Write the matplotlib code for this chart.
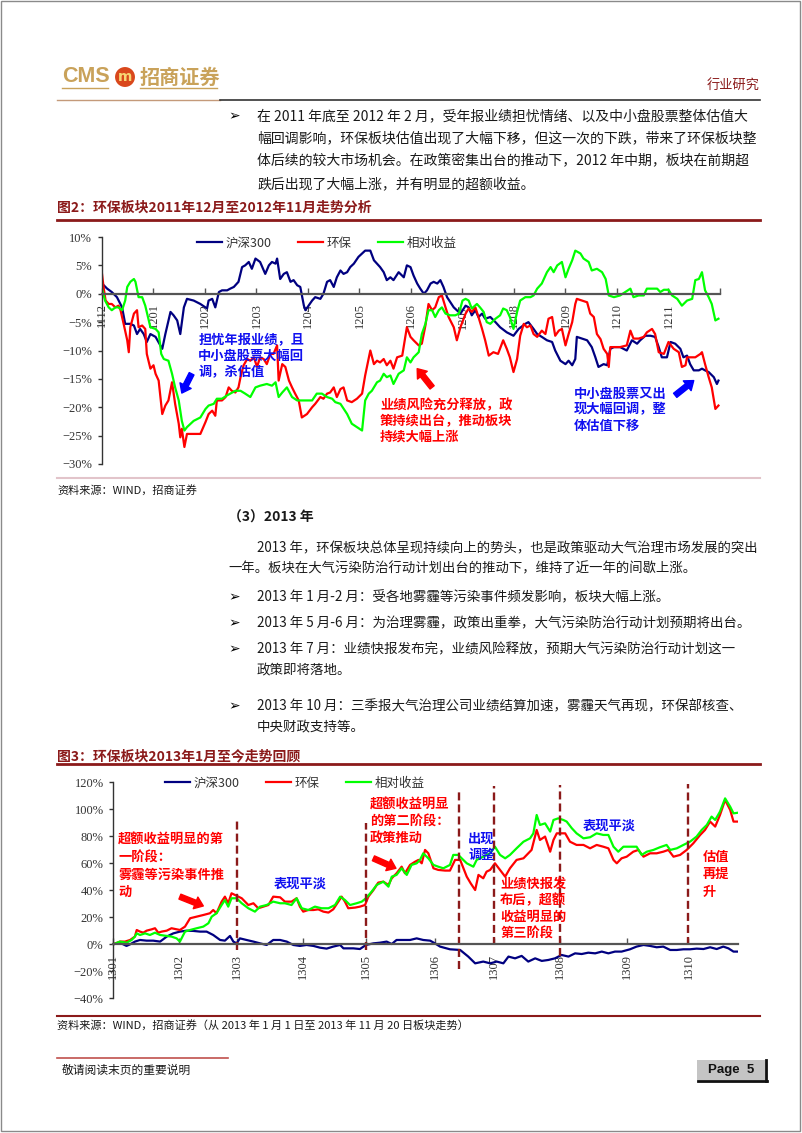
import matplotlib.pyplot as plt
from matplotlib.lines import Line2D
from matplotlib.patches import Rectangle

plt.rcParams['font.family'] = ['Noto Sans CJK SC', 'DejaVu Sans']

# ---------------- data: figure 2 (2011-12 .. 2012-11), x = months since 2011-12 ----------------
ticks_2012 = ['1112', '1201', '1202', '1203', '1204', '1205', '1206',
              '1207', '1208', '1209', '1210', '1211']

hs300_2012 = [
    (0.00, 1.8), (0.10, 0.9), (0.19, 0.3), (0.29, -0.6), (0.39, -2.4), (0.45, -5.3), (0.55, -5.3),
    (0.62, -5.6), (0.68, -7.1), (0.74, -6.2), (0.81, -7.1), (0.87, -8.5), (0.94, -7.1), (1.04, -7.6),
    (1.17, -9.7), (1.23, -7.1), (1.33, -3.2), (1.39, -3.8), (1.46, -4.7), (1.52, -7.1), (1.59, -2.4),
    (1.65, -0.9), (1.78, -1.2), (1.91, -1.8), (2.04, -2.6), (2.07, -1.2), (2.14, -0.9), (2.20, -2.4),
    (2.27, 0.3), (2.33, 0.6), (2.43, 0.6), (2.49, 0.9), (2.56, 1.2), (2.65, 2.1), (2.72, 4.7),
    (2.78, 5.0), (2.85, 5.6), (2.91, 4.4), (2.98, 6.2), (3.07, 5.6), (3.17, 3.5), (3.24, 5.0),
    (3.30, 5.6), (3.37, 5.3), (3.40, 6.2), (3.46, 2.6), (3.53, 3.5), (3.59, 3.8), (3.66, 2.1),
    (3.72, 2.4), (3.79, 1.5), (3.85, 1.2), (3.92, -2.1), (3.95, -2.9), (4.01, -2.1), (4.08, -1.2),
    (4.14, -0.6), (4.24, -0.9), (4.30, 0.0), (4.37, 2.1), (4.43, 2.4), (4.50, 1.2), (4.56, 2.9),
    (4.63, 4.1), (4.69, 3.5), (4.76, 3.8), (4.82, 4.7), (4.89, 5.3), (4.98, 6.5), (5.05, 7.1),
    (5.11, 7.6), (5.21, 7.6), (5.28, 5.9), (5.34, 5.3), (5.40, 4.7), (5.47, 3.8), (5.53, 2.4),
    (5.60, 2.9), (5.66, 2.4), (5.76, 3.8), (5.86, 2.9), (5.92, 5.0), (5.99, 4.7), (6.05, 3.2),
    (6.12, 1.8), (6.18, 0.9), (6.25, 0.0), (6.31, 0.6), (6.38, 1.8), (6.44, 2.1), (6.51, 1.8),
    (6.57, 2.4), (6.63, 1.2), (6.70, -0.6), (6.83, -2.4), (6.96, -3.5), (7.06, -2.1), (7.12, -2.4),
    (7.18, -3.8), (7.25, -2.9), (7.31, -4.1), (7.38, -3.5), (7.44, -4.4), (7.54, -4.1), (7.64, -5.0),
    (7.73, -5.9), (7.86, -6.8), (7.99, -7.4), (8.09, -6.2), (8.22, -5.3), (8.28, -5.0), (8.38, -6.2),
    (8.45, -7.1), (8.54, -7.6), (8.64, -8.2), (8.74, -8.5), (8.80, -10.0), (8.90, -11.8),
    (9.00, -12.4), (9.06, -11.8), (9.13, -12.6), (9.19, -11.5), (9.22, -7.6), (9.32, -7.9),
    (9.42, -8.2), (9.51, -9.4), (9.58, -11.2), (9.64, -12.9), (9.74, -12.4), (9.81, -12.6),
    (9.87, -9.7), (9.94, -9.4), (10.06, -9.4), (10.19, -10.0), (10.29, -8.2), (10.39, -8.8),
    (10.45, -8.2), (10.55, -7.4), (10.65, -7.4), (10.74, -7.6), (10.81, -9.4), (10.87, -11.2),
    (10.97, -11.2), (11.04, -8.5), (11.13, -8.8), (11.23, -9.7), (11.29, -11.2), (11.36, -10.9),
    (11.42, -12.4), (11.49, -13.5), (11.59, -13.5), (11.65, -13.2), (11.71, -13.5), (11.78, -13.8),
    (11.88, -14.7), (11.94, -15.9), (11.97, -15.3),
]

env_2012 = [
    (0.00, 3.5), (0.03, 1.2), (0.07, -1.2), (0.13, -1.8), (0.19, -1.8), (0.26, -2.4), (0.32, -2.1),
    (0.36, -2.9), (0.42, -5.3), (0.49, -8.2), (0.52, -10.3), (0.55, -5.9), (0.62, -3.5), (0.68, -2.9),
    (0.71, -5.9), (0.78, -5.6), (0.84, -6.2), (0.87, -10.6), (0.94, -13.2), (1.00, -12.6),
    (1.04, -14.1), (1.10, -15.3), (1.17, -21.2), (1.23, -19.7), (1.29, -18.8), (1.36, -15.6),
    (1.42, -19.4), (1.49, -22.9), (1.52, -25.3), (1.55, -23.8), (1.60, -27.0), (1.65, -24.7),
    (1.78, -24.7), (1.91, -24.7), (2.01, -22.6), (2.07, -21.2), (2.14, -20.6), (2.20, -21.5),
    (2.23, -18.8), (2.33, -18.8), (2.40, -18.2), (2.46, -16.5), (2.52, -17.1), (2.59, -17.4),
    (2.65, -16.5), (2.69, -14.7), (2.75, -12.6), (2.82, -11.5), (2.88, -11.8), (2.95, -11.2),
    (3.01, -12.9), (3.07, -11.2), (3.14, -11.5), (3.20, -12.4), (3.27, -10.6), (3.33, -10.6),
    (3.40, -9.1), (3.43, -15.3), (3.50, -12.4), (3.56, -12.9), (3.63, -15.3), (3.69, -16.5),
    (3.75, -17.6), (3.82, -18.8), (3.88, -21.8), (3.98, -21.2), (4.08, -20.0), (4.14, -19.4),
    (4.24, -18.2), (4.30, -18.5), (4.37, -17.6), (4.43, -17.4), (4.50, -16.5), (4.56, -18.2),
    (4.63, -16.8), (4.69, -16.5), (4.76, -18.8), (4.85, -19.1), (4.95, -18.5), (5.05, -17.6),
    (5.11, -14.4), (5.21, -10.0), (5.28, -12.4), (5.34, -11.8), (5.40, -12.1), (5.47, -11.5),
    (5.53, -12.6), (5.60, -11.8), (5.66, -13.2), (5.73, -11.2), (5.83, -10.9), (5.92, -5.9),
    (5.99, -7.6), (6.05, -8.2), (6.15, -9.1), (6.21, -8.8), (6.28, -5.6), (6.34, -1.8), (6.41, -2.9),
    (6.47, -2.4), (6.54, -0.6), (6.60, -0.3), (6.67, -2.4), (6.73, -4.1), (6.83, -5.9), (6.89, -8.2),
    (6.96, -5.9), (7.06, -3.5), (7.12, -2.6), (7.18, -3.2), (7.25, -2.4), (7.31, -4.1), (7.38, -6.2),
    (7.44, -8.2), (7.51, -10.9), (7.60, -10.3), (7.69, -10.6), (7.79, -8.2), (7.86, -9.7),
    (7.92, -11.2), (7.99, -13.8), (8.06, -11.5), (8.12, -7.4), (8.19, -5.3), (8.25, -5.9),
    (8.32, -5.6), (8.38, -7.1), (8.45, -7.6), (8.54, -6.5), (8.61, -7.1), (8.67, -4.4), (8.74, -4.1),
    (8.80, -7.4), (8.87, -6.5), (8.93, -6.2), (9.00, -9.1), (9.06, -7.1), (9.13, -5.0), (9.19, -1.8),
    (9.22, -0.9), (9.32, -1.2), (9.42, -1.5), (9.48, -3.5), (9.55, -4.1), (9.61, -7.1), (9.68, -8.0),
    (9.74, -9.7), (9.81, -10.6), (9.84, -12.9), (9.87, -9.4), (9.97, -9.4), (10.06, -9.4),
    (10.19, -9.1), (10.26, -6.5), (10.32, -7.9), (10.42, -7.9), (10.52, -7.6), (10.58, -6.8),
    (10.68, -6.2), (10.74, -7.1), (10.81, -10.3), (10.91, -10.6), (11.00, -8.5), (11.10, -9.7),
    (11.20, -10.3), (11.26, -12.9), (11.33, -12.6), (11.36, -11.2), (11.46, -11.2), (11.52, -11.2),
    (11.62, -10.6), (11.65, -10.3), (11.71, -12.4), (11.78, -14.7), (11.84, -16.5), (11.91, -20.3),
    (11.97, -19.7),
]

rel_2012 = [
    (0.00, 0.9), (0.06, -1.2), (0.13, -2.4), (0.19, -2.9), (0.26, -2.4), (0.32, -2.4), (0.39, -2.9),
    (0.45, -1.2), (0.49, 1.2), (0.55, 2.1), (0.62, 2.6), (0.65, 2.1), (0.71, -0.6), (0.78, -0.6),
    (0.84, -2.1), (0.94, -5.9), (1.04, -6.2), (1.10, -6.8), (1.15, -10.6), (1.20, -11.5),
    (1.29, -11.8), (1.36, -14.1), (1.42, -16.5), (1.49, -18.8), (1.55, -22.4), (1.60, -24.1),
    (1.65, -23.5), (1.78, -22.4), (1.91, -21.8), (2.01, -20.3), (2.07, -19.7), (2.17, -19.4),
    (2.23, -18.5), (2.33, -18.5), (2.43, -17.9), (2.49, -17.6), (2.59, -17.1), (2.69, -17.1),
    (2.78, -17.6), (2.88, -18.2), (2.98, -16.5), (3.07, -16.2), (3.20, -15.9), (3.30, -16.2),
    (3.37, -15.6), (3.43, -18.2), (3.50, -17.4), (3.59, -16.5), (3.69, -18.2), (3.79, -18.8),
    (3.88, -18.8), (3.98, -18.8), (4.08, -18.8), (4.17, -17.6), (4.27, -17.6), (4.37, -18.2),
    (4.47, -18.5), (4.53, -19.1), (4.63, -19.4), (4.76, -21.2), (4.85, -22.9), (4.95, -23.5),
    (5.05, -24.1), (5.11, -18.8), (5.18, -17.6), (5.24, -17.1), (5.34, -15.6), (5.40, -15.3),
    (5.47, -14.1), (5.53, -14.7), (5.60, -14.4), (5.66, -15.9), (5.76, -14.1), (5.86, -13.5),
    (5.92, -11.2), (5.99, -12.1), (6.05, -11.2), (6.15, -10.3), (6.21, -7.1), (6.28, -5.3),
    (6.34, -2.9), (6.41, -2.9), (6.47, -4.1), (6.54, -2.9), (6.60, -2.4), (6.67, -3.5), (6.76, -3.8),
    (6.86, -3.8), (6.93, -3.5), (7.00, -1.2), (7.06, -0.9), (7.12, -1.2), (7.18, -2.6), (7.28, -1.8),
    (7.34, -2.4), (7.41, -3.2), (7.47, -5.0), (7.54, -5.3), (7.64, -4.4), (7.73, -3.8), (7.79, -2.6),
    (7.86, -2.9), (7.92, -4.1), (7.99, -6.2), (8.06, -3.2), (8.12, -1.2), (8.22, -0.6), (8.32, -0.6),
    (8.38, -0.3), (8.45, 0.9), (8.54, 1.8), (8.64, 3.8), (8.71, 4.7), (8.77, 3.8), (8.84, 5.0),
    (8.93, 5.6), (9.00, 2.9), (9.06, 4.4), (9.13, 5.9), (9.19, 7.6), (9.29, 7.1), (9.35, 6.2),
    (9.45, 5.6), (9.51, 4.1), (9.61, 4.4), (9.71, 3.8), (9.78, 2.6), (9.84, -0.3), (9.94, -0.6),
    (10.06, -0.3), (10.16, 0.3), (10.26, 0.9), (10.32, -0.6), (10.42, -0.3), (10.52, -0.3),
    (10.58, 0.9), (10.68, 0.9), (10.78, 0.9), (10.84, 0.3), (10.91, 0.7), (11.00, 0.7), (11.07, -0.3),
    (11.17, -0.9), (11.26, -2.1), (11.36, -1.2), (11.46, -0.9), (11.52, 2.4), (11.59, 2.6),
    (11.65, 3.8), (11.71, 0.6), (11.78, -0.6), (11.84, -1.8), (11.91, -4.7), (11.97, -4.4),
]

# ---------------- data: figure 3 (2013-01-01 .. 2013-11-20), x = trading-day index ----------------
ticks_2013 = ['1301', '1302', '1303', '1304', '1305', '1306', '1307', '1308', '1309', '1310']
tick_days_2013 = [0, 22, 41.1, 63.1, 84.2, 107.2, 127, 148.9, 171.1, 191.7]
last_day_2013 = 208.3
phase_days = [41.1, 84.2, 115.3, 127, 148.9, 191.7]
phase_tops = [92, 90, 114, 117, 118, 119]
phase_bottoms = [-4, -4, -18, -0.5, -9, -0.5]

hs300_2013 = [
    (0, 0), (2.2, 1.2), (4.4, -1.2), (5.6, 0), (7.2, 2), (8.9, 3.2), (11.1, 2.7), (13.3, 2.7),
    (15.6, 2), (17.8, 5.7), (20, 8.1), (22.2, 9.4), (24.4, 10.1), (26.7, 9.9), (28.9, 9.4),
    (31.1, 9.4), (33.3, 6.9), (35.6, 3.2), (37.2, 2.7), (38.9, 6.2), (40, 2), (41.1, 0.7), (42.2, 4.4),
    (44.4, 3.2), (46.7, 2), (48.9, 0.7), (51.1, -0.5), (53.3, 3.2), (55.6, 3.2), (57.8, 2), (60, -0.5),
    (62.2, -1.2), (64.4, -0.5), (66.7, -1.2), (68.9, -2.5), (71.1, -3.2), (73.3, -1.7), (75.6, -0.5),
    (76.7, -3), (78.3, -3), (80, -3), (82.2, -3.5), (84.2, -0.5), (86.7, 0.7), (88.9, 1.2), (91.1, 2),
    (92.8, 0.2), (94.4, 3.2), (96.7, 3.2), (98.9, 3.2), (101.1, 4.4), (103.3, 3.2), (105.6, 2.7),
    (107.2, 0.7), (108.9, -1.7), (112.2, -3.7), (115.6, -4.2), (118.3, -9.1), (120.6, -14.1),
    (123.3, -12.8), (125.6, -14.1), (127.8, -12.8), (130, -14.1), (131.7, -9.1), (133.9, -10.4),
    (136.1, -8.6), (138.3, -12.8), (140.6, -10.4), (142.8, -12.3), (145, -11.6), (147.2, -10.4),
    (149.4, -7.9), (151.7, -9.1), (153.9, -6.7), (156.1, -7.2), (158.3, -6.2), (160.6, -6.7),
    (162.8, -5.4), (165, -6.7), (167.2, -5.4), (169.4, -5.4), (172.2, -3.7), (174.4, -1.7),
    (176.7, -0.5), (178.9, -1.2), (181.1, -2.2), (183.3, -1.7), (185.6, -4.2), (187.8, -4.2),
    (190, -3.7), (192.2, -3.7), (194.4, -3.2), (196.7, -3.5), (198.9, -2.2), (201.1, -3.5),
    (203.3, -1.7), (205, -3), (206.7, -5.4), (208.3, -5.4),
]

env_2013 = [
    (0, 0), (2.2, 2), (3.9, 2), (5.6, 3.2), (7.2, 5.7), (7.8, 10.6), (8.9, 9.4), (10, 8.6), (11.1, 10.1),
    (12.8, 11.1), (13.9, 11.9), (15, 8.6), (16.1, 9.4), (17.8, 10.1), (19.4, 11.9), (21.1, 11.1),
    (22.2, 10.6), (23.9, 13.1), (25.6, 19.3), (27.8, 20.5), (30, 21.7), (32.2, 23), (33.3, 25.4),
    (34.4, 23), (36.1, 31.6), (37.2, 35.3), (38.3, 30.4), (39.4, 37.8), (40.6, 36.5), (41.7, 35.3),
    (42.8, 34.1), (43.9, 31.6), (45, 29.1), (46.7, 30.4), (48.3, 26.7), (50, 27.9), (51.7, 29.1),
    (53.3, 35.3), (55.6, 34.8), (57.2, 31.6), (59.4, 31.6), (61.1, 34.1), (62.2, 27.9), (63.3, 24.2),
    (65, 25.4), (66.7, 25.4), (68.3, 25.9), (70, 24.2), (71.7, 23.5), (73.3, 25.9), (75, 31.6),
    (76.1, 35.3), (77.2, 31.6), (78.3, 26.7), (80.6, 27.2), (82.2, 27.9), (83.9, 29.1), (85, 35.3),
    (86.7, 40.2), (88.3, 45.7), (90, 46.4), (91.7, 43.9), (92.8, 48.9), (94.4, 52.6), (96.1, 57.5),
    (97.2, 52.6), (98.9, 58.8), (100.6, 61.2), (101.7, 62.5), (102.8, 60), (103.9, 69.9), (105, 67.4),
    (106.7, 56.3), (108.3, 55.1), (110.6, 54.6), (112.2, 54.6), (113.9, 62.5), (115.6, 62.5),
    (116.7, 56.3), (117.8, 50.1), (119.1, 45.2), (120.6, 40.2), (121.7, 51.4), (123.3, 48.9),
    (124.4, 53.8), (125.6, 55.1), (127.2, 60), (128.9, 55.1), (130.6, 50.1), (132.2, 56.3),
    (134.4, 62.5), (136.7, 63.7), (139.4, 69.9), (141.1, 84.7), (142.2, 77.3), (143.9, 79.8),
    (145.6, 68.6), (146.7, 77.3), (147.8, 82.2), (148.9, 82.2), (150.6, 82.2), (152.2, 76),
    (154.4, 73.6), (156.7, 73.6), (158.9, 71.1), (161.1, 73.6), (163.3, 72.3), (165, 71.1),
    (166.7, 62.5), (167.8, 60), (169.4, 63.7), (171.1, 64.9), (173.3, 68.6), (175, 69.9),
    (176.7, 64.9), (178.9, 67.4), (181.1, 67.4), (183.3, 68.6), (185, 69.9), (186.7, 64.9),
    (188.9, 66.2), (191.1, 69.9), (193.3, 74.8), (195.6, 81), (197.2, 84.7), (198.9, 90.9),
    (200.6, 87.2), (202.2, 95.8), (203.9, 106.9), (205.6, 99.5), (206.7, 90.9), (208.3, 90.9),
]

rel_2013 = [
    (0, 0), (2.2, 2), (4.4, 1.2), (6.1, 3.2), (7.2, 5.7), (7.8, 8.1), (8.9, 6.9), (10.6, 8.1), (12.2, 6.9),
    (13.9, 8.6), (15.6, 6.9), (17.8, 6.2), (19.4, 5.7), (21.1, 4.4), (22.2, 2), (23.9, 9.4), (25.6, 10.6),
    (27.8, 11.9), (30, 13.1), (31.7, 15.6), (32.8, 20.5), (34.4, 23), (36.1, 29.1), (37.2, 32.8),
    (38.3, 27.9), (39.4, 34.1), (41.1, 34.1), (42.8, 30.4), (45, 26.7), (47.2, 24.2), (48.9, 27.9),
    (51.1, 29.1), (53.3, 31.6), (55.6, 30.4), (57.2, 30.4), (59.4, 29.1), (61.1, 34.1), (62.8, 26.7),
    (65, 25.4), (67.2, 27.9), (69.4, 26.7), (71.7, 26.7), (73.9, 29.1), (75.6, 35.3), (77.2, 32.8),
    (78.9, 29.1), (81.1, 30.4), (82.8, 31.6), (84.2, 34.1), (86.1, 39), (87.8, 44), (90, 46.4),
    (91.7, 42.7), (92.8, 50.1), (94.4, 51.4), (96.1, 56.3), (97.8, 51.4), (99.4, 58.8), (101.1, 60),
    (102.2, 62.5), (103.3, 67.4), (105, 63.7), (106.7, 58.8), (108.3, 57.5), (110, 56.3),
    (112.2, 58.8), (113.3, 66.2), (115, 66.2), (116.1, 63.7), (117.8, 60), (120, 57.5), (121.1, 62.5),
    (123.3, 64.9), (125.6, 67.4), (127.2, 72.3), (128.9, 66.2), (130.6, 63.7), (132.2, 66.2),
    (134.4, 71.1), (136.7, 76), (138.9, 78.5), (140, 82.2), (141.1, 95.8), (142.2, 88.4), (143.9, 89.6),
    (145.6, 83.5), (146.7, 92.1), (148.3, 93.3), (150, 92.1), (151.1, 90.9), (152.8, 86), (154.4, 82.2),
    (156.7, 78.5), (158.9, 79.3), (161.1, 82.2), (163.3, 81), (165, 81), (166.7, 72.3), (168.3, 68.6),
    (170, 72.3), (172.2, 72.3), (174.4, 72.3), (176.1, 66.2), (177.8, 68.6), (180, 69.9), (182.2, 71.9),
    (184.4, 73.6), (185.6, 69.9), (187.8, 71.1), (190, 73.6), (192.2, 76), (194.4, 79.8), (196.1, 84.7),
    (197.8, 88.4), (199.4, 94.6), (200.6, 92.1), (202.2, 98.3), (203.9, 108.1), (205.6, 101.9),
    (206.7, 97), (208.3, 97.5),
]

series_names = ['沪深300', '环保', '相对收益']
series_colors = ['#000080', '#FF0000', '#00FF00']

# ---------------- page layout helpers (pixel positions measured from top-left) ----------------
W, H = 802, 1133
fig = plt.figure(figsize=(W / 100, H / 100), dpi=100)

def fx(x):
    return x / W

def fy(y):
    return 1 - y / H

def ftext(x, y, s, **kw):
    kw.setdefault('va', 'center')
    kw.setdefault('ha', 'left')
    fig.text(fx(x), fy(y), s, **kw)

def hline(x0, x1, y, **kw):
    fig.add_artist(Line2D([fx(x0), fx(x1)], [fy(y), fy(y)], transform=fig.transFigure, **kw))

DARKRED = '#8B1A1A'
GOLD = '#C9A25A'
BODY = '#1a1a1a'
BULLET_FONT = ['Noto Sans CJK SC', 'DejaVu Sans']

# page border
fig.add_artist(Rectangle((fx(1), fy(1131)), fx(799), 1130 / H, transform=fig.transFigure,
                         fc='none', ec='#8a8a8a', lw=1))

# header
ftext(62, 77, 'CMS', fontsize=15.5, fontweight='bold', color=GOLD, family='Liberation Sans')
ftext(125, 77, 'm', fontsize=10, fontweight='bold', color='#F7D774', ha='center',
      family='DejaVu Sans', bbox=dict(boxstyle='circle,pad=0.2', fc='#D9481C', ec='none'))
ftext(140, 77, '招商证券', fontsize=14.5, fontweight='bold', color=GOLD)
hline(62, 108, 88, color=GOLD, lw=1)
hline(140, 217, 88, color=GOLD, lw=1)
ftext(760, 86, '行业研究', fontsize=9.5, color=DARKRED, ha='right')
hline(57, 220, 100, color='#C49A7A', lw=1)
hline(220, 760, 99.5, color='#333333', lw=1.2)

# paragraph 1
para1 = ['在 2011 年底至 2012 年 2 月，受年报业绩担忧情绪、以及中小盘股票整体估值大',
         '幅回调影响，环保板块估值出现了大幅下移，但这一次的下跌，带来了环保板块整',
         '体后续的较大市场机会。在政策密集出台的推动下，2012 年中期，板块在前期超',
         '跌后出现了大幅上涨，并有明显的超额收益。']
ftext(228, 116, '➢', fontsize=10, color='#000000', family=BULLET_FONT)
for i, line in enumerate(para1):
    ftext(257, 116 + i * 22.7, line, fontsize=10, color=BODY)

# figure 2 title
ftext(57, 208, '图2：环保板块2011年12月至2012年11月走势分析', fontsize=10, fontweight='bold', color=DARKRED)
hline(57, 760, 220, color=DARKRED, lw=2)
hline(57, 760, 478, color='#E2C4CA', lw=1.5)
ftext(57, 490, '资料来源：WIND，招商证券', fontsize=8, color=BODY)

# section (3)
ftext(228, 518, '（3）2013 年', fontsize=10, fontweight='bold', color=BODY)
ftext(257, 548, '2013 年，环保板块总体呈现持续向上的势头，也是政策驱动大气治理市场发展的突出',
      fontsize=9.6, color=BODY)
ftext(228, 568, '一年。板块在大气污染防治行动计划出台的推动下，维持了近一年的间歇上涨。',
      fontsize=9.6, color=BODY)
bullets = [(597, ['2013 年 1 月-2 月：受各地雾霾等污染事件频发影响，板块大幅上涨。']),
           (623, ['2013 年 5 月-6 月：为治理雾霾，政策出重拳，大气污染防治行动计划预期将出台。']),
           (649, ['2013 年 7 月：业绩快报发布完，业绩风险释放，预期大气污染防治行动计划这一',
                  '政策即将落地。']),
           (706, ['2013 年 10 月：三季报大气治理公司业绩结算加速，雾霾天气再现，环保部核查、',
                  '中央财政支持等。'])]
for y0, lines in bullets:
    ftext(228, y0, '➢', fontsize=10, color='#000000', family=BULLET_FONT)
    for i, line in enumerate(lines):
        ftext(257, y0 + i * 20, line, fontsize=9.7, color=BODY)

# figure 3 title
ftext(57, 756, '图3：环保板块2013年1月至今走势回顾', fontsize=10, fontweight='bold', color=DARKRED)
hline(57, 760, 764, color=DARKRED, lw=2)
hline(57, 760, 1016, color=DARKRED, lw=1.5)
ftext(57, 1025, '资料来源：WIND，招商证券（从 2013 年 1 月 1 日至 2013 年 11 月 20 日板块走势）',
      fontsize=8, color=BODY)

# footer
hline(57, 228, 1058, color='#C0504D', lw=1.2)
ftext(62, 1070, '敬请阅读末页的重要说明', fontsize=8.5, color=BODY)
fig.add_artist(Rectangle((fx(697), fy(1080)), (765 - 697) / W, 20 / H, transform=fig.transFigure,
                         fc='#C4C4C4', ec='none'))
hline(698, 767, 1081, color='#111111', lw=2)
fig.add_artist(Line2D([fx(766), fx(766)], [fy(1060), fy(1081)], transform=fig.transFigure,
                      color='#111111', lw=2))
ftext(731, 1070, 'Page  5', fontsize=9.5, fontweight='bold', color='#111111', ha='center',
      family='Liberation Sans')


# ---------------- charts ----------------
def style_axes(ax, xlim, ylim, yticks, xticks, xlabels):
    ax.set_xlim(*xlim)
    ax.set_ylim(*ylim)
    ax.patch.set_alpha(0)
    for s in ['top', 'right']:
        ax.spines[s].set_visible(False)
    ax.spines['bottom'].set_position(('data', 0))
    ax.spines['bottom'].set_color('#555555')
    ax.spines['bottom'].set_linewidth(1.6)
    ax.spines['left'].set_color('#333333')
    ax.spines['left'].set_linewidth(1)
    ax.set_yticks(yticks)
    ax.set_yticklabels([f'{v}%'.replace('-', '\u2212') for v in yticks],
                       family='Liberation Serif', fontsize=9, color='#333333')
    ax.set_xticks(xticks)
    ax.set_xticklabels(xlabels, rotation=90, family='Liberation Serif', fontsize=9,
                       color='#333333')
    ax.tick_params(axis='x', direction='in', length=4, width=1, color='#555555', pad=7)
    ax.tick_params(axis='y', direction='out', length=3, width=1, color='#333333', pad=4)


def draw_series(ax, data_sets):
    handles = []
    for data, name, color in zip(data_sets, series_names, series_colors):
        xs, ys = zip(*data)
        h, = ax.plot(xs, ys, color=color, lw=1.6, label=name, solid_joinstyle='round')
        handles.append(h)
    return handles


def legend(ax, handles, x, y):
    leg = ax.legend(handles=handles, loc='center left', bbox_to_anchor=(fx(x), fy(y)),
                    bbox_transform=fig.transFigure, ncol=3, frameon=False, fontsize=9,
                    handlelength=2.0, handletextpad=0.3, columnspacing=2.1,
                    borderpad=0, borderaxespad=0)
    for t in leg.get_texts():
        t.set_color('#333333')


def note(ax, x, y, lines, color, step_px, size=9.5):
    for i, line in enumerate(lines):
        ax.annotate(line, xy=(x, y), xytext=(0, -i * step_px * 0.72), textcoords='offset points',
                    ha='left', va='center', fontsize=size, fontweight='bold', color=color)


def arrow(ax, tail, head, color):
    ax.annotate('', xy=head, xytext=tail,
                arrowprops=dict(arrowstyle='simple,head_width=0.9,head_length=0.6,tail_width=0.38',
                                fc=color, ec=color, shrinkA=0, shrinkB=0, mutation_scale=10))


BLUE_TXT = '#1010F0'
RED_TXT = '#FF0000'

# figure 2 chart
ax1 = fig.add_axes([fx(102), fy(464), (720 - 102) / W, (464 - 237) / H])
style_axes(ax1, (0, 12), (-30, 10), list(range(-30, 11, 5)),
           list(range(13)), ticks_2012 + [''])
h1 = draw_series(ax1, [hs300_2012, env_2012, rel_2012])
legend(ax1, h1, 197, 243)
note(ax1, 1.87, -8.2, ['担忧年报业绩，且', '中小盘股票大幅回', '调，杀估值'], BLUE_TXT, 16)
note(ax1, 5.40, -19.7, ['业绩风险充分释放，政', '策持续出台，推动板块', '持续大幅上涨'], RED_TXT, 15.5)
note(ax1, 9.16, -17.6, ['中小盘股票又出', '现大幅回调，整', '体估值下移'], BLUE_TXT, 16)
arrow(ax1, (1.74, -14.1), (1.55, -17.5), '#0000FF')
arrow(ax1, (6.41, -16.5), (6.12, -13.2), '#FF0000')
arrow(ax1, (11.13, -17.9), (11.49, -15.3), '#0000FF')

# figure 3 chart
ax2 = fig.add_axes([fx(113.3), fy(998.3), (738.3 - 113.3) / W, (998.3 - 782.3) / H])
style_axes(ax2, (0, last_day_2013), (-40, 120), list(range(-40, 121, 20)),
           tick_days_2013, ticks_2013)
h2 = draw_series(ax2, [hs300_2013, env_2013, rel_2013])
for d, top, bot in zip(phase_days, phase_tops, phase_bottoms):
    ax2.plot([d, d], [bot, top], color='#8B1A1A', lw=1.7, dashes=(3.4, 1.7))
legend(ax2, h2, 165, 783)
note(ax2, 1.6, 77.3, ['超额收益明显的第', '一阶段：', '雾霾等污染事件推', '动'], RED_TXT, 17.3)
note(ax2, 53.3, 45.2, ['表现平淡'], BLUE_TXT, 16)
note(ax2, 85.6, 103.2, ['超额收益明显', '的第二阶段：', '政策推动'], RED_TXT, 16.7)
note(ax2, 118.3, 78.5, ['出现', '调整'], BLUE_TXT, 16.7)
note(ax2, 128.9, 45.2, ['业绩快报发', '布后，超额', '收益明显的', '第三阶段'], RED_TXT, 16.7)
note(ax2, 156.4, 87.6, ['表现平淡'], BLUE_TXT, 16)
note(ax2, 196.4, 64.9, ['估值', '再提', '升'], RED_TXT, 17.5)
arrow(ax2, (22.2, 35.3), (30.0, 28.4), '#FF0000')
arrow(ax2, (86.7, 63.7), (94.2, 56.3), '#FF0000')

fig.savefig('out.png', dpi=100)
